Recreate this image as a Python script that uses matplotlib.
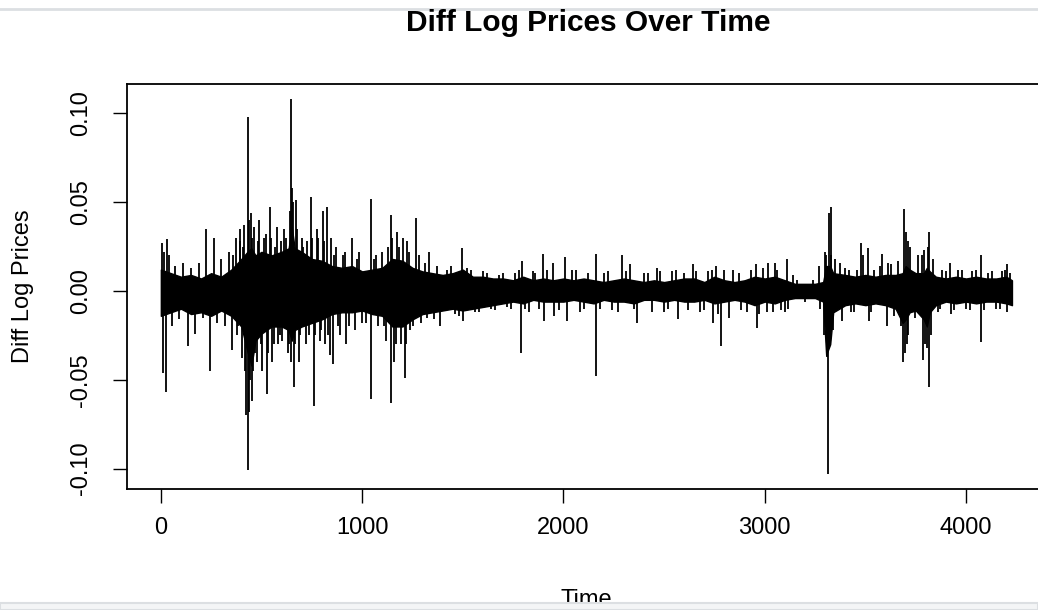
import numpy as np
import matplotlib
matplotlib.use("Agg")
import matplotlib.pyplot as plt
from matplotlib.lines import Line2D
from matplotlib.patches import Rectangle

plt.rcParams['font.family'] = ['Liberation Sans', 'DejaVu Sans']

# series length and read-off values (diff of log prices)
n_obs = 4228

# dense core of the series: upper / lower edge of the black band
band_t = [0, 50, 100, 150, 200, 250, 300, 350, 400, 430, 450, 470, 500, 550, 600,
          635, 650, 665, 700, 750, 800, 850, 900, 950, 1000, 1050, 1100, 1150, 1200,
          1250, 1300, 1350, 1400, 1450, 1500, 1550, 1600, 1650, 1700, 1750, 1800,
          1850, 1900, 1950, 2000, 2050, 2100, 2150, 2200, 2250, 2300, 2350, 2400,
          2450, 2500, 2550, 2600, 2650, 2700, 2750, 2800, 2850, 2900, 2950, 3000,
          3050, 3100, 3150, 3200, 3250, 3290, 3305, 3325, 3340, 3400, 3450, 3500,
          3550, 3600, 3650, 3685, 3700, 3720, 3750, 3790, 3805, 3820, 3850, 3900,
          3950, 4000, 4050, 4100, 4150, 4200, 4228]
band_hi = [0.012, 0.010, 0.008, 0.009, 0.007, 0.010, 0.008, 0.012, 0.018, 0.022,
           0.024, 0.020, 0.022, 0.020, 0.022, 0.024, 0.036, 0.024, 0.022, 0.018,
           0.017, 0.014, 0.013, 0.014, 0.011, 0.012, 0.013, 0.018, 0.017, 0.013,
           0.011, 0.010, 0.009, 0.010, 0.012, 0.008, 0.008, 0.007, 0.007, 0.006,
           0.008, 0.006, 0.007, 0.006, 0.007, 0.006, 0.007, 0.006, 0.005, 0.006,
           0.007, 0.006, 0.005, 0.006, 0.005, 0.006, 0.007, 0.007, 0.005, 0.008,
           0.006, 0.005, 0.006, 0.008, 0.007, 0.008, 0.006, 0.004, 0.004, 0.004,
           0.005, 0.014, 0.014, 0.010, 0.009, 0.008, 0.009, 0.008, 0.009, 0.009,
           0.010, 0.014, 0.012, 0.010, 0.010, 0.013, 0.011, 0.008, 0.007, 0.008,
           0.007, 0.008, 0.007, 0.007, 0.008, 0.006]
band_lo = [-0.014, -0.012, -0.010, -0.013, -0.012, -0.014, -0.011, -0.014, -0.020,
           -0.034, -0.042, -0.028, -0.024, -0.020, -0.020, -0.022, -0.028, -0.022,
           -0.020, -0.018, -0.016, -0.013, -0.012, -0.012, -0.011, -0.013, -0.014,
           -0.020, -0.020, -0.016, -0.013, -0.012, -0.011, -0.010, -0.011, -0.010,
           -0.009, -0.008, -0.007, -0.006, -0.007, -0.005, -0.006, -0.006, -0.006,
           -0.005, -0.006, -0.007, -0.005, -0.006, -0.006, -0.007, -0.005, -0.005,
           -0.006, -0.005, -0.006, -0.006, -0.005, -0.007, -0.006, -0.005, -0.006,
           -0.008, -0.006, -0.007, -0.005, -0.004, -0.004, -0.004, -0.006, -0.036,
           -0.030, -0.012, -0.008, -0.007, -0.008, -0.007, -0.008, -0.010, -0.018,
           -0.016, -0.012, -0.011, -0.016, -0.020, -0.012, -0.008, -0.006, -0.007,
           -0.006, -0.007, -0.006, -0.006, -0.007, -0.008]

# large spikes sticking out of the band
spike_t = [8, 12, 18, 25, 30, 40, 55, 70, 90, 110, 134, 150, 170, 190, 210, 223, 243,
           263, 280, 300, 320, 340, 355, 372, 385, 395, 405, 415, 425, 432, 434, 440,
           448, 455, 465, 478, 490, 505, 520, 526, 541, 560, 575, 590, 610, 630, 645,
           652, 660, 672, 685, 700, 720, 744, 759, 775, 790, 804, 815, 826, 838, 845,
           854, 870, 890, 905, 920, 948, 965, 985, 1000, 1042, 1043, 1060, 1080, 1100,
           1120, 1141, 1142, 1160, 1175, 1195, 1211, 1225, 1240, 1270, 1290, 1310,
           1330, 1355, 1385, 1420, 1460, 1494, 1500, 1540, 1580, 1620, 1660, 1700,
           1740, 1780, 1791, 1795, 1830, 1860, 1900, 1902, 1950, 1955, 2010, 2020,
           2060, 2100, 2163, 2164, 2200, 2240, 2293, 2330, 2367, 2400, 2467, 2500,
           2540, 2571, 2600, 2645, 2680, 2720, 2744, 2760, 2784, 2800, 2820, 2870,
           2910, 2958, 2959, 2990, 3017, 3040, 3050, 3080, 3112, 3115, 3160, 3200,
           3240, 3270, 3275, 3300, 3308, 3315, 3318, 3330, 3340, 3350, 3375, 3385,
           3400, 3430, 3460, 3479, 3490, 3514, 3516, 3545, 3583, 3608, 3610, 3640,
           3660, 3675, 3687, 3692, 3700, 3705, 3720, 3745, 3760, 3787, 3790, 3805,
           3816, 3818, 3835, 3860, 3880, 3921, 3925, 3960, 4000, 4030, 4074, 4075,
           4110, 4150, 4180, 4203, 4205, 4220]
spike_v = [0.027, -0.046, 0.022, -0.057, 0.029, 0.020, -0.020, 0.014, -0.016, 0.016,
           -0.031, 0.013, -0.024, 0.016, -0.015, 0.035, -0.045, 0.030, -0.018, 0.018,
           -0.020, 0.022, -0.033, 0.030, -0.020, 0.035, -0.038, 0.037, -0.070, 0.098,
           -0.1005, -0.068, 0.044, -0.062, 0.036, -0.040, 0.040, -0.045, 0.032,
           -0.058, 0.047, -0.030, 0.036, -0.025, 0.035, -0.035, 0.108, 0.058, -0.054,
           0.051, -0.040, 0.030, -0.030, 0.053, -0.065, 0.035, -0.028, 0.045, -0.030,
           0.047, -0.036, 0.030, -0.041, 0.025, -0.025, 0.020, -0.030, 0.030, -0.022,
           0.022, -0.018, 0.052, -0.061, 0.018, -0.020, 0.022, -0.028, 0.043, -0.063,
           -0.040, 0.033, -0.030, -0.049, 0.028, -0.022, 0.041, -0.018, 0.016, 0.022,
           -0.016, -0.020, 0.012, -0.013, 0.024, -0.017, 0.012, -0.012, 0.010, -0.011,
           0.010, -0.010, 0.012, -0.035, 0.017, -0.012, 0.010, 0.021, -0.017, 0.016,
           -0.014, 0.019, -0.017, 0.012, -0.010, 0.021, -0.048, 0.010, -0.011, 0.020,
           0.015, -0.018, 0.010, 0.013, -0.012, 0.011, -0.016, 0.010, 0.015, -0.012,
           0.011, -0.018, 0.014, -0.031, 0.012, -0.015, 0.010, -0.012, 0.015, -0.021,
           0.013, 0.016, -0.012, 0.016, -0.011, 0.018, -0.010, 0.006, -0.006, 0.006,
           0.014, -0.010, 0.022, -0.037, -0.103, 0.044, 0.047, -0.022, 0.018, 0.016,
           -0.017, 0.013, -0.012, 0.012, 0.027, 0.020, 0.024, -0.017, 0.012, 0.021,
           -0.020, 0.016, -0.014, 0.017, -0.020, -0.040, 0.046, 0.033, -0.030, 0.025,
           -0.015, 0.020, -0.039, 0.023, -0.032, 0.033, -0.054, 0.018, -0.012, 0.012,
           0.016, -0.013, 0.012, -0.010, 0.011, 0.020, -0.029, 0.010, -0.010, 0.011,
           0.015, -0.012, 0.010]

# smaller spikes that make the ragged edge of the band
minor_t = [360, 378, 392, 410, 420, 437, 444, 452, 460, 470, 484, 497, 512, 533, 548,
           553, 567, 583, 598, 603, 620, 637, 640, 648, 656, 664, 678, 692, 708, 728,
           736, 752, 767, 782, 797, 810, 830, 860, 880, 915, 935, 975, 1020, 1070,
           1110, 1130, 1150, 1168, 1185, 1203, 1218, 1232, 1255, 1280, 1320, 1370,
           1440, 1480, 1520, 1560, 1600, 1640, 1680, 1720, 1760, 1810, 1850, 1880,
           1920, 1980, 2040, 2080, 2120, 2180, 2220, 2270, 2310, 2350, 2420, 2440,
           2480, 2520, 2560, 2620, 2660, 2700, 2740, 2770, 2840, 2880, 2930, 2970,
           3010, 3060, 3100, 3140, 3295, 3302, 3322, 3327, 3420, 3445, 3530, 3570,
           3625, 3695, 3710, 3712, 3780, 3795, 3810, 3825, 3870, 3900, 3940, 3980,
           4020, 4050, 4090, 4130, 4170, 4195]
minor_v = [0.020, -0.025, 0.028, 0.025, -0.045, 0.040, -0.050, 0.030, -0.045, -0.035,
           0.028, -0.030, 0.030, -0.035, 0.030, -0.040, 0.025, -0.030, 0.028, -0.028,
           0.030, -0.030, 0.045, -0.040, 0.050, -0.030, 0.035, -0.025, 0.025, 0.028,
           -0.025, 0.030, -0.025, 0.030, -0.022, 0.028, -0.025, 0.020, -0.020, 0.022,
           -0.020, 0.018, -0.018, 0.020, -0.020, 0.025, 0.030, -0.030, 0.025, 0.030,
           -0.030, 0.022, -0.020, 0.020, -0.015, 0.014, 0.014, -0.014, 0.013, -0.012,
           0.011, -0.010, 0.009, -0.009, 0.010, -0.010, 0.011, -0.010, 0.012, -0.011,
           0.012, -0.012, 0.010, -0.010, 0.011, -0.012, 0.011, -0.010, 0.010, -0.012,
           0.011, -0.010, 0.012, -0.011, 0.011, -0.011, 0.012, -0.013, 0.012, -0.011,
           0.012, -0.013, -0.012, 0.012, -0.012, 0.009, -0.025, 0.020, -0.030, 0.020,
           0.012, -0.012, -0.012, 0.014, 0.015, -0.035, 0.028, -0.025, 0.020, -0.030,
           0.025, -0.025, -0.010, 0.011, -0.011, 0.012, -0.011, 0.012, -0.011, 0.011,
           -0.010, 0.012]

x_ticks = [0, 1000, 2000, 3000, 4000]
y_ticks = [-0.10, -0.05, 0.00, 0.05, 0.10]
y_tick_labels = ['-0.10', '-0.05', '0.00', '0.05', '0.10']

W, H = 1038, 610
fig = plt.figure(figsize=(W / 100, H / 100), dpi=100)
ax = fig.add_axes([127 / W, 121 / H, 919 / W, 405 / H])

ax.fill_between(band_t, band_lo, band_hi, color='black', linewidth=1.0, edgecolor='black')
ax.vlines(spike_t, 0, spike_v, color='black', linewidth=1.3)
ax.vlines(minor_t, 0, minor_v, color='black', linewidth=1.3)

# R style 4% padding around the data range
vmin, vmax = min(spike_v), max(spike_v)
pad_y = 0.04 * (vmax - vmin)
pad_x = 0.04 * (n_obs - 1)
ax.set_xlim(1 - pad_x, n_obs + pad_x)
ax.set_ylim(vmin - pad_y, vmax + pad_y)

ax.set_xticks(x_ticks)
ax.set_xticklabels([str(v) for v in x_ticks])
ax.set_yticks(y_ticks)
ax.set_yticklabels(y_tick_labels, rotation=90, va='center')
ax.tick_params(axis='both', length=10, width=1.0, labelsize=17, color='black')
ax.tick_params(axis='x', pad=10)
ax.tick_params(axis='y', pad=15)
for sp in ax.spines.values():
    sp.set_linewidth(1.3)

ax.set_xlabel('Time', fontsize=17, labelpad=36)
ax.set_ylabel('Diff Log Prices', fontsize=17, labelpad=26)
fig.text(588 / W, 1 - 23 / H, 'Diff Log Prices Over Time', fontsize=21.5,
         fontweight='bold', ha='center', va='center')

# screenshot borders
fig.add_artist(Line2D([0, 1], [1 - 9 / H, 1 - 9 / H], transform=fig.transFigure,
                      color='#dcdfe2', linewidth=2))
fig.add_artist(Rectangle((0, 0), 1, 7 / H, transform=fig.transFigure,
                         facecolor='#f4f5f6', edgecolor='#dcdfe2', linewidth=1.5,
                         zorder=10))

fig.savefig('out.png', dpi=100)
